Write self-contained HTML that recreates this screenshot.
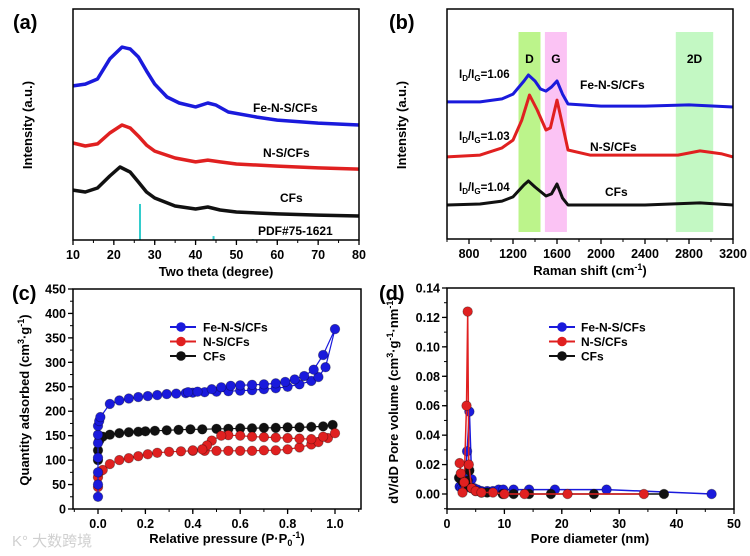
<!DOCTYPE html>
<html><head><meta charset="utf-8">
<style>
html,body{margin:0;padding:0;background:#fff;}
svg{display:block;font-family:"Liberation Sans","Noto Sans CJK SC",sans-serif;font-weight:bold;}
</style></head>
<body>
<svg id="fig" width="750" height="556" viewBox="0 0 750 556" xmlns="http://www.w3.org/2000/svg">
<text x="13" y="29" font-size="20">(a)</text>
<text x="389" y="29" font-size="20">(b)</text>
<text x="12" y="300" font-size="20">(c)</text>
<text x="379" y="300" font-size="20">(d)</text>
<text x="12" y="546" font-size="15" fill="#d0d0d0" font-weight="normal">K° 大数跨境</text>
</svg>
<script>
// ---------- Panel (a) XRD data ----------
const xrdTheta = [10,13,16,19,22,24,26,28,30,33,36,40,43,45,48,55,60,70,80];
const xrdFe = [66.7,67.5,69.7,78.4,83.5,82.7,79.2,73.2,67.5,61.9,59.3,57.6,59.3,58.4,55.4,53.2,51.9,50.6,49.8];
const xrdThetaB = [10,13,16,19,22,24,26,28,30,35,40,43,46,50,60,70,80];
const xrdNS = [42.0,40.7,41.6,46.3,49.8,48.5,45.0,41.1,38.5,35.5,33.8,34.6,33.8,32.9,32.0,31.2,30.7];
const xrdThetaC = [10,13,16,19,21.5,24,26,28,30,35,40,43,46,50,60,70,80];
const xrdCF = [21.6,20.8,22.5,27.7,31.6,29.4,25.1,20.8,18.2,14.7,13.4,14.3,13.0,12.1,11.3,10.8,10.4];
const pdfTheta = [26.4,44.4,54.0];
const pdfInt = [15.6,1.7,0.4];
// ---------- Panel (b) Raman data ----------
const ramanShiftA = [600,900,1100,1200,1300,1340,1400,1450,1500,1550,1600,1650,1700,2000,2400,2800,3200];
const ramanFe = [59.6,59.6,60.9,63.0,68.7,71.3,68.7,65.2,64.3,66.1,68.7,63.0,58.7,57.8,57.8,58.3,57.4];
const ramanShiftB = [600,900,1100,1200,1280,1350,1420,1500,1540,1600,1650,1700,1900,2400,2700,2900,3100,3200];
const ramanNS = [35.7,36.5,39.6,43.0,51.7,62.6,56.1,47.4,48.3,60.4,49.6,38.7,36.5,36.5,36.5,38.3,37.0,35.7];
const ramanShiftC = [600,900,1100,1200,1300,1340,1400,1500,1550,1600,1650,1700,2400,2900,3200];
const ramanCF = [14.8,15.2,16.5,18.3,23.5,25.2,22.6,18.7,19.6,23.9,17.8,14.8,14.8,15.7,14.8];
const bandNames = ["D","G","2D"];
const bandStart = [1250,1490,2680];
const bandEnd = [1450,1690,3020];
const ratioLabels = ["1.06","1.03","1.04"];
// ---------- Panel (c) isotherm data ----------
const pFe = [0,0,0,0,0,0,0,0.005,0.01,0.05,0.09,0.13,0.17,0.21,0.25,0.29,0.33,0.37,0.4,0.45,0.5,0.55,0.6,0.65,0.7,0.75,0.8,0.85,0.9,0.93,0.96,1.0,0.95,0.91,0.87,0.83,0.79,0.75,0.7,0.65,0.6,0.56,0.52,0.48,0.42,0.38];
const qFe = [25,50,75,105,135,152,170,180,188,215,222,226,229,231,233,235,236,237,238,239,240,241,242,243,245,247,250,255,262,270,290,368,315,285,272,265,260,257,255,254,253,252,249,245,240,239];
const pNS = [0,0,0.005,0.02,0.05,0.09,0.13,0.17,0.21,0.25,0.3,0.35,0.4,0.45,0.5,0.55,0.6,0.65,0.7,0.75,0.8,0.85,0.9,0.93,0.97,1.0,0.95,0.9,0.85,0.8,0.75,0.7,0.65,0.6,0.55,0.52,0.48,0.46,0.44,0.4];
const qNS = [45,65,75,80,92,100,104,108,112,115,117,118,119,119,119,119,119,119,120,120,122,126,132,137,145,155,148,143,144,145,146,147,148,150,151,150,140,130,122,120];
const pCF = [0,0,0.005,0.02,0.05,0.09,0.13,0.17,0.2,0.24,0.29,0.34,0.39,0.44,0.5,0.55,0.6,0.65,0.7,0.75,0.8,0.85,0.9,0.95,0.99];
const qCF = [100,120,140,148,152,155,157,158,159,160,161,162,163,163,164,164,165,165,166,166,167,167,168,169,172];
// ---------- Panel (d) pore distribution ----------
const dFe = [2.2,2.5,2.8,3.2,3.5,3.9,4.3,4.7,5.3,6,7,8,9,9.8,11.6,14.3,18.8,27.8,46.1];
const vFe = [0.005,0.004,0.003,0.01,0.029,0.056,0.01,0.004,0.003,0.002,0.002,0.002,0.003,0.003,0.003,0.003,0.003,0.003,0.0];
const dNS = [2.2,2.4,2.7,3.0,3.4,3.6,3.8,4.3,5,6,8,10,13.5,21,34.3];
const vNS = [0.021,0.014,0.001,0.008,0.06,0.124,0.02,0.004,0.002,0.001,0.001,0.0,0.0,0.0,0.0];
const dCF = [2.1,2.4,2.8,3.2,3.6,3.9,4.2,5,6,7,9.7,11.6,14.3,18.1,25.6,37.8];
const vCF = [0.011,0.01,0.008,0.006,0.009,0.016,0.004,0.002,0.001,0.001,0.0,0.0,0.0,0.0,0.0,0.0];
const seriesNames = ["Fe-N-S/CFs","N-S/CFs","CFs"];
const xTicksA = [10,20,30,40,50,60,70,80];
const xTicksB = [800,1200,1600,2000,2400,2800,3200];
const xTicksC = [0.0,0.2,0.4,0.6,0.8,1.0];
const yTicksC = [0,50,100,150,200,250,300,350,400,450];
const xTicksD = [0,10,20,30,40,50];
const yTicksD = [0.00,0.02,0.04,0.06,0.08,0.10,0.12,0.14];

const NS="http://www.w3.org/2000/svg";
const svg=document.getElementById('fig');
function el(tag,attrs,parent){const e=document.createElementNS(NS,tag);for(const k in attrs)e.setAttribute(k,attrs[k]);(parent||svg).appendChild(e);return e;}
function lin(d0,d1,r0,r1){return v=>r0+(v-d0)/(d1-d0)*(r1-r0);}
const BLUE="#1a1adc",RED="#e02020",BLACK="#111";
const colors=[BLUE,RED,BLACK];

function frame(g,x0,y0,x1,y1){const r=el('rect',{x:x0,y:y0,width:x1-x0,height:y1-y0,fill:'none',stroke:'#000','stroke-width':1.5},g);}
function xTicks(g,ticks,sx,yb,fmt,minorStep,xmin,xmax){
  ticks.forEach(t=>{const l=el('line',{x1:sx(t),x2:sx(t),y1:yb,y2:yb+5,stroke:'#000','stroke-width':1.3},g);
    const tx=el('text',{x:sx(t),y:yb+19,'font-size':12.5,'text-anchor':'middle'},g);tx.textContent=fmt(t);});
  if(minorStep){for(let v=xmin;v<=xmax+1e-9;v+=minorStep){el('line',{x1:sx(v),x2:sx(v),y1:yb,y2:yb+3,stroke:'#000','stroke-width':1},g);}}
}
function yTicks(g,ticks,sy,xl,fmt,minorStep,ymin,ymax){
  ticks.forEach(t=>{const l=el('line',{x1:xl-5,x2:xl,y1:sy(t),y2:sy(t),stroke:'#000','stroke-width':1.3},g);
    const tx=el('text',{x:xl-7,y:sy(t)+4.5,'font-size':12.5,'text-anchor':'end'},g);tx.textContent=fmt(t);});
  if(minorStep){for(let v=ymin;v<=ymax+1e-9;v+=minorStep){el('line',{x1:xl-3,x2:xl,y1:sy(v),y2:sy(v),stroke:'#000','stroke-width':1},g);}}
}
function label(g,txt,x,y,size,anchor,rot,name){const t=el('text',{x:x,y:y,'font-size':size,'text-anchor':anchor||'start'},g);if(rot)t.setAttribute('transform',`rotate(-90 ${x} ${y})`);t.innerHTML=txt;return t;}
function line(g,xs,ys,sx,sy,color,w,name){const d=xs.map((x,i)=>(i?'L':'M')+sx(x).toFixed(1)+','+sy(ys[i]).toFixed(1)).join('');const p=el('path',{d:d,fill:'none',stroke:color,'stroke-width':w,'stroke-linejoin':'round'},g);return p;}
function markers(g,xs,ys,sx,sy,color,name){xs.forEach((x,i)=>{const c=el('circle',{cx:sx(x),cy:sy(ys[i]),r:4.8,fill:color,stroke:'rgba(0,0,0,0.35)','stroke-width':0.8},g);});}

// ----- Panel a -----
{const g=el('g',{});
 const X0=73,X1=359,Y0=9,Y1=240;const sx=lin(10,80,X0,X1),sy=lin(0,100,Y1,Y0);
 line(g,xrdTheta,xrdFe,sx,sy,BLUE,3.5,'xrd-fe-n-s-cfs-line');
 line(g,xrdThetaB,xrdNS,sx,sy,RED,3.5,'xrd-n-s-cfs-line');
 line(g,xrdThetaC,xrdCF,sx,sy,BLACK,3.5,'xrd-cfs-line');
 pdfTheta.forEach((t,i)=>{const l=el('line',{x1:sx(t),x2:sx(t),y1:sy(0),y2:sy(pdfInt[i]),stroke:'#33cccc','stroke-width':2},g);});
 frame(g,X0,Y0,X1,Y1);
 xTicks(g,xTicksA,sx,Y1,t=>t,5,10,80);
 label(g,'Fe-N-S/CFs',253,112,12,'start',0,'fe-n-s-cfs-label');
 label(g,'N-S/CFs',263,157,12,'start',0,'n-s-cfs-label');
 label(g,'CFs',280,202,12,'start',0,'cfs-label');
 label(g,'PDF#75-1621',258,235,12,'start',0,'pdf-label');
 label(g,'Two theta (degree)',216,276,13,'middle',0,'x-axis-title');
 label(g,'Intensity (a.u.)',32,125,13,'middle',1,'y-axis-title');
}
// ----- Panel b -----
{const g=el('g',{});
 const X0=447,X1=733,Y0=9,Y1=239;const sx=lin(600,3200,X0,X1),sy=lin(0,100,Y1,Y0);
 const bandColors=['rgba(160,240,90,0.7)','rgba(250,170,240,0.7)','rgba(170,245,170,0.7)'];
 bandNames.forEach((n,i)=>{const r=el('rect',{x:sx(bandStart[i]),y:32,width:sx(bandEnd[i])-sx(bandStart[i]),height:200,fill:bandColors[i]},g);
   label(g,n,(sx(bandStart[i])+sx(bandEnd[i]))/2,63,12,'middle',0,'band-label');});
 line(g,ramanShiftA,ramanFe,sx,sy,BLUE,3,'raman-fe-n-s-cfs-line');
 line(g,ramanShiftB,ramanNS,sx,sy,RED,3,'raman-n-s-cfs-line');
 line(g,ramanShiftC,ramanCF,sx,sy,BLACK,3,'raman-cfs-line');
 frame(g,X0,Y0,X1,Y1);
 xTicks(g,xTicksB,sx,Y1,t=>t,200,600,3200);
 const ys=[78,140,191];
 ratioLabels.forEach((r,i)=>label(g,'I<tspan font-size="8" dy="3">D</tspan><tspan dy="-3">/I</tspan><tspan font-size="8" dy="3">G</tspan><tspan dy="-3">='+r+'</tspan>',459,ys[i],11.5,'start',0,'id-ig-ratio-label'));
 label(g,'Fe-N-S/CFs',580,89,12,'start',0,'fe-n-s-cfs-label');
 label(g,'N-S/CFs',590,151,12,'start',0,'n-s-cfs-label');
 label(g,'CFs',605,196,12,'start',0,'cfs-label');
 label(g,'Raman shift (cm<tspan font-size="9" dy="-5">-1</tspan><tspan dy="5">)</tspan>',590,275,13,'middle',0,'x-axis-title');
 label(g,'Intensity (a.u.)',406,125,13,'middle',1,'y-axis-title');
}
// ----- Panel c -----
{const g=el('g',{});
 const X0=73,X1=361,Y0=289,Y1=509;const sx=lin(0,1,98,335),sy=lin(0,450,Y1,Y0);
 const P=[pFe,pNS,pCF],Q=[qFe,qNS,qCF],nm=['fe-n-s-cfs','n-s-cfs','cfs'];
 [2,1,0].forEach(i=>{line(g,P[i],Q[i],sx,sy,colors[i],1.2,'isotherm-'+nm[i]+'-line');markers(g,P[i],Q[i],sx,sy,colors[i],'isotherm-'+nm[i]+'-point');});
 frame(g,X0,Y0,X1,Y1);
 xTicks(g,xTicksC,sx,Y1,t=>t.toFixed(1),0.1,-0.1,1.1);
 yTicks(g,yTicksC,sy,X0,t=>t,25,0,450);
 seriesNames.forEach((n,i)=>{const y=327+i*14.5;const l=el('line',{x1:170,x2:196,y1:y,y2:y,stroke:colors[i],'stroke-width':2},g);
   const c=el('circle',{cx:181,cy:y,r:4.8,fill:colors[i]},g);
   label(g,n,203,y+4.5,12,'start',0,'legend-entry');});
 label(g,'Relative pressure (P·P<tspan font-size="9" dy="3">0</tspan><tspan font-size="9" dy="-8">-1</tspan><tspan dy="5">)</tspan>',227,543,13,'middle',0,'x-axis-title');
 label(g,'Quantity adsorbed (cm<tspan font-size="9" dy="-5">3</tspan><tspan dy="5">·g</tspan><tspan font-size="9" dy="-5">-1</tspan><tspan dy="5">)</tspan>',29,400,13,'middle',1,'y-axis-title');
}
// ----- Panel d -----
{const g=el('g',{});
 const X0=447,X1=734,Y0=288,Y1=509;const sx=lin(0,50,X0,X1),sy=lin(0,0.14,494,288);
 const D=[dFe,dNS,dCF],V=[vFe,vNS,vCF],nm=['fe-n-s-cfs','n-s-cfs','cfs'];
 [0,2,1].forEach(i=>{line(g,D[i],V[i],sx,sy,colors[i],1.5,'pore-'+nm[i]+'-line');markers(g,D[i],V[i],sx,sy,colors[i],'pore-'+nm[i]+'-point');});
 frame(g,X0,Y0,X1,Y1);
 xTicks(g,xTicksD,sx,Y1,t=>t,5,0,50);
 yTicks(g,yTicksD,sy,X0,t=>t.toFixed(2),0.01,-0.01,0.14);
 seriesNames.forEach((n,i)=>{const y=327+i*14.5;const l=el('line',{x1:549,x2:575,y1:y,y2:y,stroke:colors[i],'stroke-width':2},g);
   const c=el('circle',{cx:562,cy:y,r:4.8,fill:colors[i]},g);
   label(g,n,581,y+4.5,12,'start',0,'legend-entry');});
 label(g,'Pore diameter (nm)',590,543,13,'middle',0,'x-axis-title');
 label(g,'dV/dD Pore volume (cm<tspan font-size="9" dy="-5">3</tspan><tspan dy="5">·g</tspan><tspan font-size="9" dy="-5">-1</tspan><tspan dy="5">·nm</tspan><tspan font-size="9" dy="-5">-1</tspan><tspan dy="5">)</tspan>',398,400,13,'middle',1,'y-axis-title');
}
</script>
</body></html>
